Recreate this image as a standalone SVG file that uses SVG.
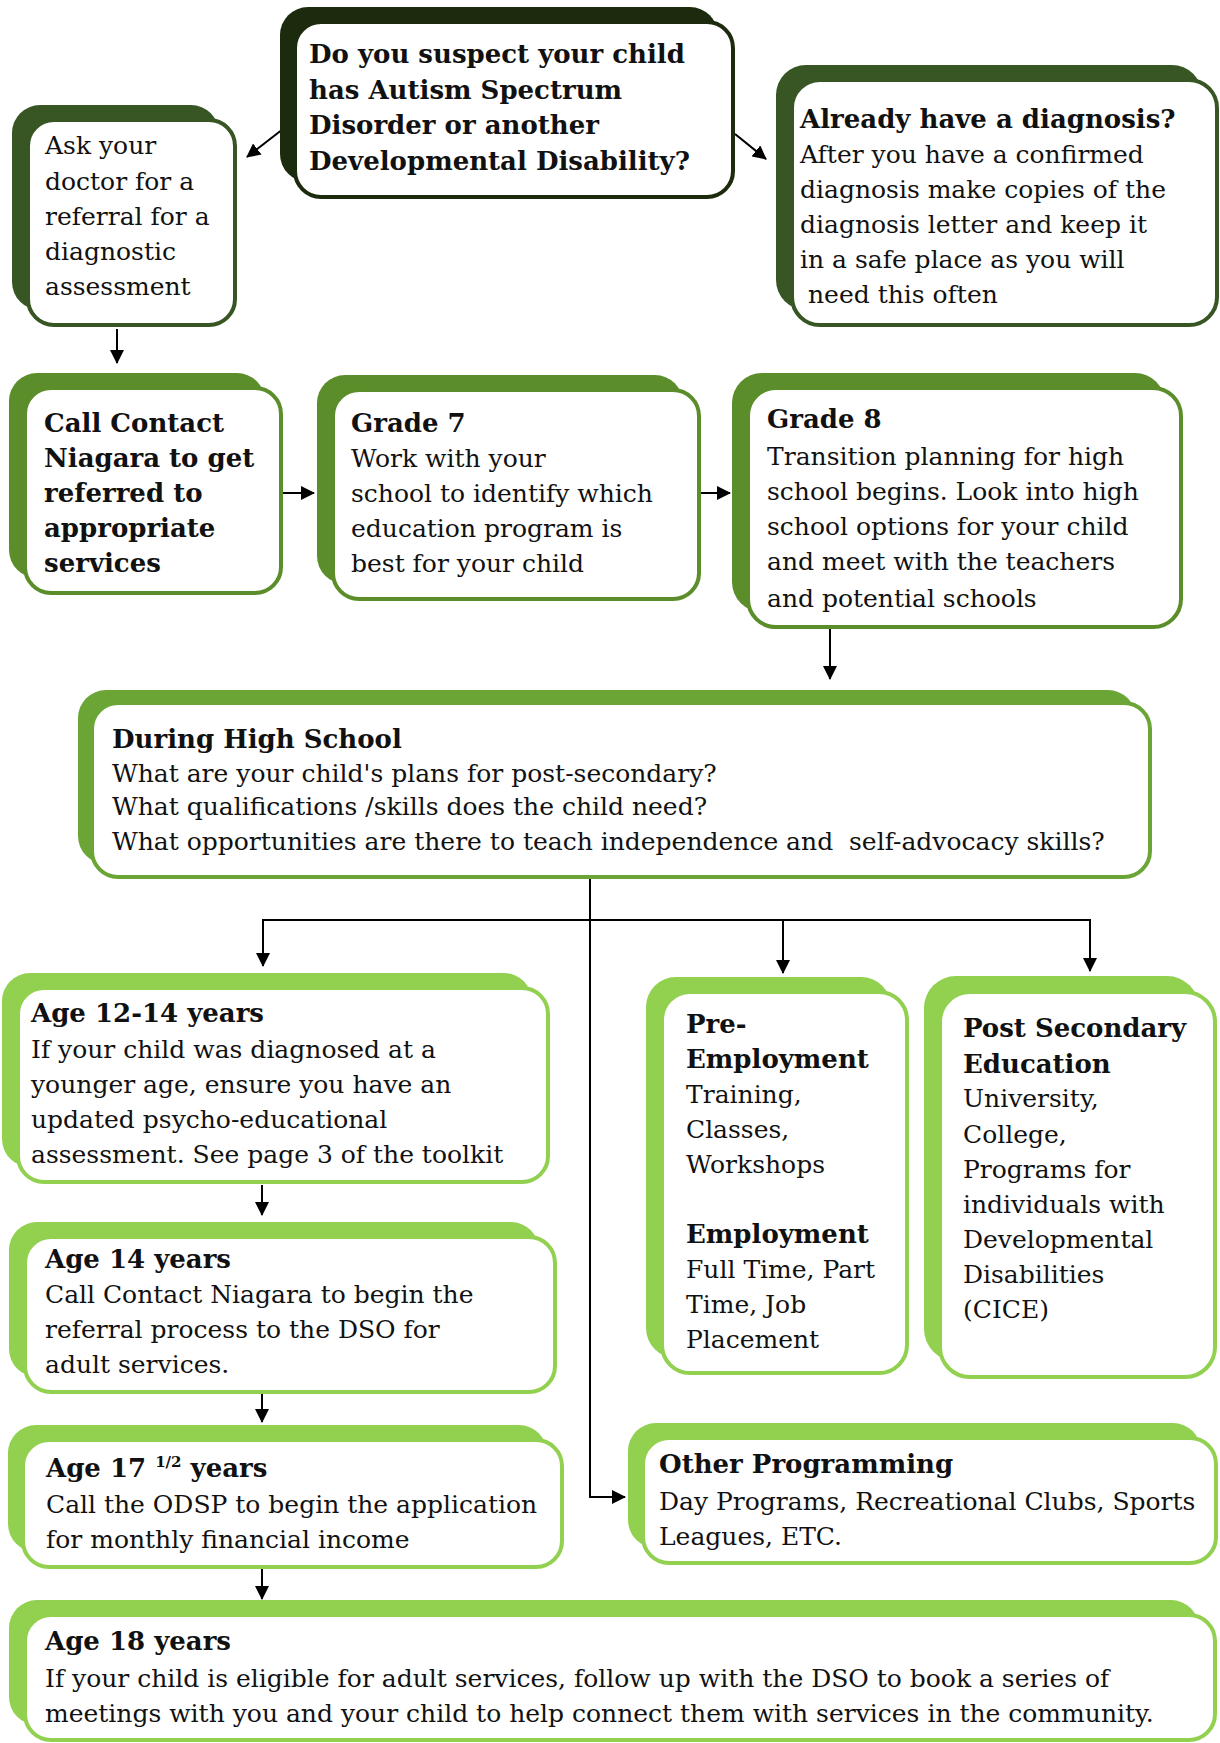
<svg xmlns="http://www.w3.org/2000/svg" width="1220" height="1743" viewBox="0 0 1220 1743">
<style>
text{font-family:"DejaVu Serif","Liberation Serif",serif;font-size:25px;fill:#111;white-space:pre}
.b{font-weight:bold;font-size:26px}
.fr{fill:#fff;stroke-width:4}
.kA .bk{fill:#1c2a0e}.kA .fr{stroke:#1c2a0e}
.kB .bk{fill:#375623}.kB .fr{stroke:#375623}
.kC .bk{fill:#5b8e2a}.kC .fr{stroke:#5b8e2a}
.kD .bk{fill:#6aa535}.kD .fr{stroke:#6aa535}
.kE .bk{fill:#92d050}.kE .fr{stroke:#92d050}
.ln{fill:none;stroke:#000;stroke-width:2}
</style>
<defs>
<marker id="ah" markerUnits="userSpaceOnUse" markerWidth="14" markerHeight="14" refX="13" refY="7" orient="auto"><path d="M0,0 L14,7 L0,14 z" fill="#000"/></marker>
</defs>
<rect width="1220" height="1743" fill="#fff"/>

<g id="connectors">
<line class="ln" x1="283" y1="129" x2="247" y2="157" marker-end="url(#ah)"/>
<line class="ln" x1="735" y1="134" x2="766" y2="159" marker-end="url(#ah)"/>
<line class="ln" x1="117" y1="329" x2="117" y2="363" marker-end="url(#ah)"/>
<line class="ln" x1="283" y1="493" x2="314" y2="493" marker-end="url(#ah)"/>
<line class="ln" x1="701" y1="493" x2="730" y2="493" marker-end="url(#ah)"/>
<line class="ln" x1="830" y1="628" x2="830" y2="679" marker-end="url(#ah)"/>
<polyline class="ln" points="590,877 590,1497 625,1497" marker-end="url(#ah)"/>
<line class="ln" x1="262" y1="920" x2="1091" y2="920"/>
<line class="ln" x1="263" y1="919" x2="263" y2="966" marker-end="url(#ah)"/>
<line class="ln" x1="783" y1="919" x2="783" y2="973" marker-end="url(#ah)"/>
<line class="ln" x1="1090" y1="919" x2="1090" y2="971" marker-end="url(#ah)"/>
<line class="ln" x1="262" y1="1185" x2="262" y2="1215" marker-end="url(#ah)"/>
<line class="ln" x1="262" y1="1394" x2="262" y2="1422" marker-end="url(#ah)"/>
<line class="ln" x1="262" y1="1569" x2="262" y2="1599" marker-end="url(#ah)"/>
</g>

<g id="question" class="kA">
<rect class="bk" x="280" y="7" width="438" height="175" rx="28"/>
<rect class="fr" x="295" y="22" width="438" height="175" rx="26"/>
<text class="b"><tspan x="309" y="63">Do you suspect your child</tspan><tspan x="309" y="99">has Autism Spectrum</tspan><tspan x="309" y="134">Disorder or another</tspan><tspan x="309" y="170">Developmental Disability?</tspan></text>
</g>

<g id="ask-doctor" class="kB">
<rect class="bk" x="12" y="105" width="207" height="205" rx="28"/>
<rect class="fr" x="28" y="120" width="207" height="205" rx="26"/>
<text><tspan x="45" y="154">Ask your</tspan><tspan x="45" y="190">doctor for a</tspan><tspan x="45" y="225">referral for a</tspan><tspan x="45" y="260">diagnostic</tspan><tspan x="45" y="295">assessment</tspan></text>
</g>

<g id="already-diagnosis" class="kB">
<rect class="bk" x="776" y="65" width="426" height="245" rx="30"/>
<rect class="fr" x="792" y="80" width="425" height="245" rx="28"/>
<text><tspan class="b" x="800" y="128">Already have a diagnosis?</tspan><tspan x="800" y="163">After you have a confirmed</tspan><tspan x="800" y="198">diagnosis make copies of the</tspan><tspan x="800" y="233">diagnosis letter and keep it</tspan><tspan x="800" y="268">in a safe place as you will</tspan><tspan x="808" y="303">need this often</tspan></text>
</g>

<g id="call-contact" class="kC">
<rect class="bk" x="9" y="373" width="256" height="205" rx="28"/>
<rect class="fr" x="25" y="388" width="256" height="205" rx="26"/>
<text class="b"><tspan x="44" y="432">Call Contact</tspan><tspan x="44" y="467">Niagara to get</tspan><tspan x="44" y="502">referred to</tspan><tspan x="44" y="537">appropriate</tspan><tspan x="44" y="572">services</tspan></text>
</g>

<g id="grade-7" class="kC">
<rect class="bk" x="317" y="375" width="366" height="209" rx="28"/>
<rect class="fr" x="333" y="390" width="366" height="209" rx="26"/>
<text><tspan class="b" x="351" y="432">Grade 7</tspan><tspan x="351" y="467">Work with your</tspan><tspan x="351" y="502">school to identify which</tspan><tspan x="351" y="537">education program is</tspan><tspan x="351" y="572">best for your child</tspan></text>
</g>

<g id="grade-8" class="kC">
<rect class="bk" x="732" y="373" width="433" height="239" rx="30"/>
<rect class="fr" x="748" y="388" width="433" height="239" rx="28"/>
<text><tspan class="b" x="767" y="428">Grade 8</tspan><tspan x="767" y="465">Transition planning for high</tspan><tspan x="767" y="500">school begins. Look into high</tspan><tspan x="767" y="535">school options for your child</tspan><tspan x="767" y="570">and meet with the teachers</tspan><tspan x="767" y="607">and potential schools</tspan></text>
</g>

<g id="during-high-school" class="kD">
<rect class="bk" x="78" y="690" width="1058" height="174" rx="28"/>
<rect class="fr" x="92" y="703" width="1058" height="174" rx="26"/>
<text><tspan class="b" x="112" y="748">During High School</tspan><tspan x="112" y="782">What are your child's plans for post-secondary?</tspan><tspan x="112" y="815">What qualifications /skills does the child need?</tspan><tspan x="112" y="850">What opportunities are there to teach independence and  self-advocacy skills?</tspan></text>
</g>

<g id="age-12-14" class="kE">
<rect class="bk" x="2" y="973" width="530" height="194" rx="28"/>
<rect class="fr" x="18" y="988" width="530" height="194" rx="26"/>
<text><tspan class="b" x="31" y="1022">Age 12-14 years</tspan><tspan x="31" y="1058">If your child was diagnosed at a</tspan><tspan x="31" y="1093">younger age, ensure you have an</tspan><tspan x="31" y="1128">updated psycho-educational</tspan><tspan x="31" y="1163">assessment. See page 3 of the toolkit</tspan></text>
</g>

<g id="age-14" class="kE">
<rect class="bk" x="9" y="1222" width="530" height="155" rx="28"/>
<rect class="fr" x="25" y="1237" width="530" height="155" rx="26"/>
<text><tspan class="b" x="45" y="1268">Age 14 years</tspan><tspan x="45" y="1303">Call Contact Niagara to begin the</tspan><tspan x="45" y="1338">referral process to the DSO for</tspan><tspan x="45" y="1373">adult services.</tspan></text>
</g>

<g id="age-17-half" class="kE">
<rect class="bk" x="8" y="1425" width="539" height="127" rx="28"/>
<rect class="fr" x="23" y="1440" width="539" height="127" rx="26"/>
<text><tspan class="b" x="46" y="1477">Age 17 <tspan font-size="15" dy="-10">1/2</tspan><tspan dy="10"> years</tspan></tspan><tspan x="46" y="1513">Call the ODSP to begin the application</tspan><tspan x="46" y="1548">for monthly financial income</tspan></text>
</g>

<g id="age-18" class="kE">
<rect class="bk" x="9" y="1600" width="1190" height="125" rx="28"/>
<rect class="fr" x="25" y="1615" width="1190" height="125" rx="26"/>
<text><tspan class="b" x="45" y="1650">Age 18 years</tspan><tspan x="45" y="1687">If your child is eligible for adult services, follow up with the DSO to book a series of</tspan><tspan x="45" y="1722">meetings with you and your child to help connect them with services in the community.</tspan></text>
</g>

<g id="employment" class="kE">
<rect class="bk" x="646" y="977" width="245" height="381" rx="30"/>
<rect class="fr" x="662" y="992" width="245" height="381" rx="28"/>
<text><tspan class="b" x="686" y="1033">Pre-</tspan><tspan class="b" x="686" y="1068">Employment</tspan><tspan x="686" y="1103">Training,</tspan><tspan x="686" y="1138">Classes,</tspan><tspan x="686" y="1173">Workshops</tspan><tspan class="b" x="686" y="1243">Employment</tspan><tspan x="686" y="1278">Full Time, Part</tspan><tspan x="686" y="1313">Time, Job</tspan><tspan x="686" y="1348">Placement</tspan></text>
</g>

<g id="post-secondary" class="kE">
<rect class="bk" x="924" y="976" width="275" height="385" rx="32"/>
<rect class="fr" x="940" y="992" width="275" height="385" rx="30"/>
<text><tspan class="b" x="963" y="1037">Post Secondary</tspan><tspan class="b" x="963" y="1073">Education</tspan><tspan x="963" y="1107">University,</tspan><tspan x="963" y="1143">College,</tspan><tspan x="963" y="1178">Programs for</tspan><tspan x="963" y="1213">individuals with</tspan><tspan x="963" y="1248">Developmental</tspan><tspan x="963" y="1283">Disabilities</tspan><tspan x="963" y="1318">(CICE)</tspan></text>
</g>

<g id="other-programming" class="kE">
<rect class="bk" x="628" y="1423" width="573" height="125" rx="28"/>
<rect class="fr" x="643" y="1438" width="573" height="125" rx="26"/>
<text><tspan class="b" x="659" y="1473">Other Programming</tspan><tspan x="659" y="1510">Day Programs, Recreational Clubs, Sports</tspan><tspan x="659" y="1545">Leagues, ETC.</tspan></text>
</g>
</svg>
